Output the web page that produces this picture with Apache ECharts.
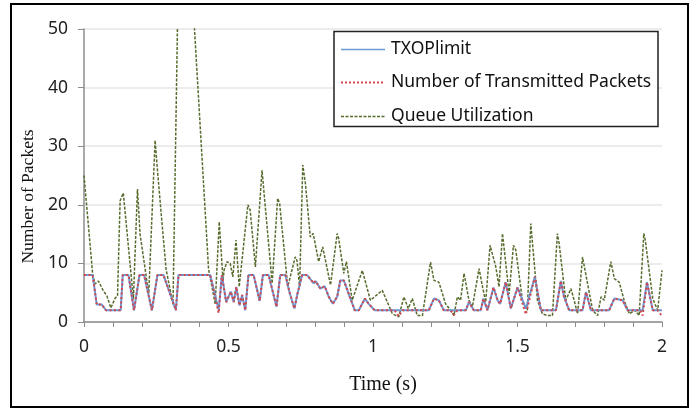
<!DOCTYPE html>
<html>
<head>
<meta charset="utf-8">
<script src="https://cdn.jsdelivr.net/npm/echarts@6/dist/echarts.min.js"></script>
<style>
html,body{margin:0;padding:0;background:#fff;}
#chart{width:693px;height:411px;}
</style>
</head>
<body>
<div id="chart"></div>
<script>
// Series names
var seriesNames = ['TXOPlimit', 'Number of Transmitted Packets', 'Queue Utilization'];
var yTicks = [0, 10, 20, 30, 40, 50];
var xLabels = [0, 0.5, 1, 1.5, 2];

// TXOPlimit (time s, packets)
var txopTime = [0,0.030,0.044,0.061,0.076,0.127,0.134,0.154,0.173,0.192,0.208,0.235,0.254,0.275,0.318,0.327,0.437,0.466,0.477,0.492,0.508,0.518,0.527,0.538,0.547,0.558,0.569,0.587,0.608,0.619,0.639,0.666,0.679,0.697,0.712,0.728,0.739,0.755,0.772,0.795,0.801,0.818,0.833,0.847,0.861,0.876,0.887,0.899,0.916,0.937,0.951,0.972,0.985,1.006,1.193,1.211,1.228,1.245,1.321,1.332,1.349,1.373,1.382,1.396,1.417,1.431,1.440,1.459,1.477,1.500,1.529,1.560,1.581,1.633,1.650,1.661,1.679,1.725,1.737,1.754,1.817,1.835,1.864,1.881,1.933,1.948,1.968,2.0];
var txopValues = [8,8,3,3,2,2,8,8,2,8,8,2,8,8,2,8,8,2,8,3.4,5.2,3.4,6.0,2.8,4.6,2,8,8,3.6,8,8,2.6,8,8,4.9,2.3,4.9,8,8,6.6,7.0,5.7,6.1,4.3,3.1,4.3,7.1,7.1,4.8,2,2,4,3.1,2,2,4.0,3.7,2,2,3.4,2,2,4,2,5.9,3.7,3.1,6.8,2.3,5.9,2.3,7.7,2,2,7.0,4.3,2,2,5.1,2,2,4,3.7,2,2,6.8,2,2];

// Number of Transmitted Packets
var txTime = [0,0.030,0.044,0.061,0.076,0.127,0.134,0.154,0.173,0.192,0.208,0.235,0.254,0.275,0.318,0.327,0.437,0.466,0.477,0.492,0.508,0.518,0.527,0.538,0.547,0.558,0.569,0.587,0.608,0.619,0.639,0.666,0.679,0.697,0.712,0.728,0.739,0.755,0.772,0.795,0.801,0.818,0.833,0.847,0.861,0.876,0.887,0.899,0.916,0.937,0.951,0.972,0.985,1.006,1.075,1.089,1.103,1.193,1.211,1.228,1.245,1.268,1.280,1.292,1.321,1.332,1.349,1.373,1.382,1.396,1.417,1.431,1.440,1.459,1.477,1.500,1.529,1.560,1.581,1.633,1.650,1.661,1.679,1.725,1.737,1.754,1.817,1.835,1.864,1.881,1.925,1.933,1.948,1.968,1.985,2.0];
var txValues = [8,8,3,3,2,2,8,8,2,8,8,2,8,8,2,8,8,1.5,8,3.4,5.2,3.4,6.0,2.8,4.6,2,8,8,3.6,8,8,2.6,8,8,4.9,2.3,4.9,8,8,6.6,7.0,5.7,6.1,4.3,3.1,4.3,7.1,7.1,4.8,2,2,4,3.1,2,2,1,2,2,4.0,3.7,2,2,1.2,2,2,3.4,2,2,4,2,5.9,3.7,3.1,6.8,2.3,5.9,1.3,7.7,2,2,7.0,4.3,2,2,5.1,2,2,4,3.7,2,2,1.1,6.8,2,2,1];

// Queue Utilization
var queueTime = [0,0.030,0.038,0.050,0.067,0.079,0.093,0.107,0.116,0.125,0.136,0.171,0.185,0.194,0.224,0.246,0.254,0.269,0.284,0.292,0.308,0.336,0.431,0.454,0.468,0.481,0.485,0.495,0.506,0.515,0.526,0.537,0.567,0.575,0.593,0.616,0.651,0.670,0.677,0.705,0.731,0.737,0.746,0.757,0.766,0.783,0.793,0.812,0.826,0.853,0.876,0.881,0.899,0.908,0.928,0.963,0.991,1.032,1.067,1.089,1.107,1.122,1.136,1.153,1.171,1.199,1.211,1.228,1.251,1.269,1.280,1.292,1.303,1.315,1.332,1.344,1.367,1.379,1.390,1.405,1.425,1.436,1.448,1.471,1.486,1.494,1.517,1.534,1.546,1.569,1.586,1.604,1.621,1.638,1.644,1.667,1.685,1.696,1.708,1.725,1.760,1.777,1.789,1.800,1.823,1.835,1.852,1.869,1.887,1.906,1.921,1.937,1.942,1.968,1.985,2.0];
var queueValues = [25,8.2,6.5,7.0,5.3,4.5,2.4,4.0,4.5,20.7,22,3.9,22.7,15,4.8,31,26,17.4,9,7,3,89,9,3.1,17.1,7.1,8.9,10.3,10.0,7.7,14.0,6.0,20.0,19.1,9.4,25.9,6.6,21.1,20.2,6.0,11.1,10.5,6.0,26.8,23.7,14.5,15.1,10.3,12.8,6.3,15.1,14.3,8.3,10.3,3.7,8.8,3.7,5.4,1.4,0.9,4.3,2.3,4.0,1.1,1.1,10.2,7.1,6.8,3.1,2.0,1.1,4.3,3.7,8.3,3.7,2.6,9.1,6.0,3.4,13.1,9.4,6.0,15.1,4.8,13.1,12.3,3.7,2.0,16.8,3.7,1.4,1.1,1.1,15.1,13.4,3.7,5.7,3.7,1.4,11.1,2.0,1.1,4.3,3.7,10.3,7.4,6.8,3.7,1.4,2.0,1.1,15.1,14.0,4.0,2.0,8.8];

function pairs(t, v) { return t.map(function (x, i) { return [x, v[i]]; }); }

var colors = { txop: '#6f98d3', tx: '#d2454c', queue: '#566b2c' };
var sansFont = "'Noto Sans', 'Open Sans', sans-serif";
var serifFont = "'Liberation Serif', 'DejaVu Serif', serif";

var chart = echarts.init(document.getElementById('chart'), null, { renderer: 'canvas' });

var legendX = 334, legendY = 31.5, legendW = 324, legendH = 95;
var rowY = [49.5, 82.5, 116.5];
var legendGraphics = [
  { type: 'rect', shape: { x: legendX, y: legendY, width: legendW, height: legendH }, style: { fill: '#fff', stroke: '#222', lineWidth: 1.5 }, z: 100 },
  { type: 'line', shape: { x1: 341, y1: rowY[0], x2: 385, y2: rowY[0] }, style: { stroke: colors.txop, lineWidth: 1.5 }, z: 101 },
  { type: 'line', shape: { x1: 341, y1: rowY[1], x2: 385, y2: rowY[1] }, style: { stroke: colors.tx, lineWidth: 2, lineDash: [2, 2] }, z: 101 },
  { type: 'line', shape: { x1: 341, y1: rowY[2], x2: 385, y2: rowY[2] }, style: { stroke: colors.queue, lineWidth: 1.5, lineDash: [3, 1.5] }, z: 101 }
];
seriesNames.forEach(function (n, i) {
  legendGraphics.push({ type: 'text', x: 391, y: rowY[i], style: { text: n, font: "17.5px " + sansFont, fill: '#111', textVerticalAlign: 'middle', verticalAlign: 'middle' }, z: 101 });
});
legendGraphics.push({ type: 'rect', shape: { x: 11, y: 4, width: 677, height: 403 }, style: { fill: 'none', stroke: '#000', lineWidth: 2 }, z: 100 });

chart.setOption({
  animation: false,
  backgroundColor: '#fff',
  grid: { left: 84, right: 31, top: 29, bottom: 89, containLabel: false },
  xAxis: {
    type: 'value', min: 0, max: 2, interval: 0.1,
    name: 'Time (s)', nameLocation: 'middle', nameGap: 53,
    nameTextStyle: { fontFamily: serifFont, fontSize: 20, color: '#111', padding: [0, 0, 0, 20] },
    axisLine: { lineStyle: { color: '#8c8c8c', width: 1.5 } },
    axisTick: { show: true, length: 5, lineStyle: { color: '#8c8c8c', width: 1 } },
    axisLabel: {
      margin: 16, fontFamily: sansFont, fontSize: 17.5, color: '#222',
      formatter: function (v) {
        for (var i = 0; i < xLabels.length; i++) { if (Math.abs(v - xLabels[i]) < 1e-6) return String(xLabels[i]); }
        return '';
      }
    },
    splitLine: { show: false }
  },
  yAxis: {
    type: 'value', min: yTicks[0], max: yTicks[yTicks.length - 1], interval: 10,
    name: 'Number of Packets', nameLocation: 'middle', nameGap: 43, nameRotate: 90,
    nameTextStyle: { fontFamily: serifFont, fontSize: 17.5, color: '#111', padding: [0, 42, 0, 0] },
    axisLine: { show: true, lineStyle: { color: '#8c8c8c', width: 1.5 } },
    axisTick: { show: true, length: 6, lineStyle: { color: '#8c8c8c', width: 1 } },
    axisLabel: { margin: 16, fontFamily: sansFont, fontSize: 17.5, color: '#222' },
    splitLine: { show: true, lineStyle: { color: '#e6e6e6', width: 1.5 } }
  },
  series: [
    { name: seriesNames[2], type: 'line', data: pairs(queueTime, queueValues), symbol: 'none', clip: true,
      lineStyle: { color: colors.queue, width: 1.5, type: [3, 1.5] }, z: 2 },
    { name: seriesNames[0], type: 'line', data: pairs(txopTime, txopValues), symbol: 'none', clip: true,
      lineStyle: { color: colors.txop, width: 2 }, z: 3 },
    { name: seriesNames[1], type: 'line', data: pairs(txTime, txValues), symbol: 'none', clip: true,
      lineStyle: { color: colors.tx, width: 2, type: [2, 2.5] }, z: 4 }
  ],
  graphic: legendGraphics
});
</script>
</body>
</html>
